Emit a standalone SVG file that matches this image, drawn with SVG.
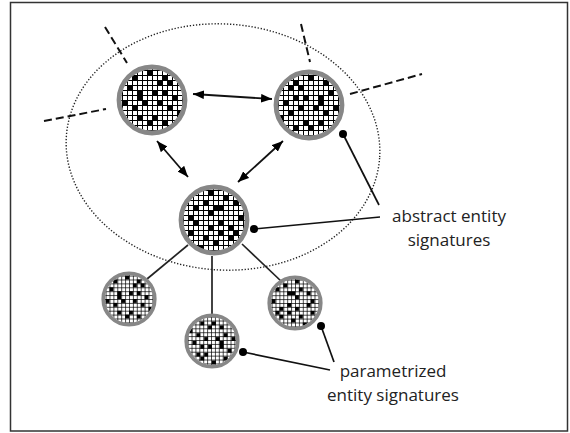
<svg xmlns="http://www.w3.org/2000/svg" xmlns:xlink="http://www.w3.org/1999/xlink" width="570" height="433" viewBox="0 0 570 433">
<style>
.frame{fill:#fff;stroke:#333;stroke-width:1.5}
.ell{fill:none;stroke:#222;stroke-width:1.4;stroke-dasharray:1.3 1.8}
.dash{fill:none;stroke:#111;stroke-width:2;stroke-dasharray:8 4}
.arr{fill:none;stroke:#111;stroke-width:1.8}
.con{fill:none;stroke:#222;stroke-width:1.7}
.ptr{fill:none;stroke:#111;stroke-width:1.7}
.dot{fill:#000}
.ring{fill:none;stroke:#878787;stroke-width:4.8}
.lbl{font-family:"Open Sans","Noto Sans","Liberation Sans",sans-serif;font-size:17px;fill:#222;text-anchor:middle}
</style>
<defs>
<pattern id="grid" patternUnits="userSpaceOnUse" width="5" height="5">
<rect width="5" height="5" fill="#fff"/>
<path d="M0,0.5H5M0.5,0V5" stroke="#000" stroke-width="1"/>
</pattern>
<clipPath id="inner"><circle cx="0" cy="0" r="31"/></clipPath>
<marker id="ah" viewBox="0 0 10 8" refX="10" refY="4" markerWidth="11" markerHeight="9" orient="auto-start-reverse" markerUnits="userSpaceOnUse">
<path d="M0,0L10,4L0,8z" fill="#000"/>
</marker>
<symbol id="node" overflow="visible">
<g clip-path="url(#inner)">
<rect x="-35" y="-35" width="70" height="70" fill="url(#grid)"/>
<g fill="#000">
<rect x="-20" y="-25" width="5" height="5"/><rect x="-5" y="-30" width="5" height="5"/>
<rect x="10" y="-25" width="5" height="5"/><rect x="15" y="-20" width="5" height="5"/>
<rect x="-25" y="-15" width="5" height="5"/><rect x="-15" y="-10" width="5" height="10"/>
<rect x="0" y="-10" width="5" height="5"/><rect x="10" y="-10" width="5" height="5"/>
<rect x="20" y="-5" width="5" height="5"/><rect x="-10" y="0" width="5" height="5"/>
<rect x="5" y="0" width="5" height="5"/><rect x="15" y="5" width="5" height="5"/>
<rect x="-20" y="5" width="5" height="5"/><rect x="0" y="15" width="5" height="5"/>
<rect x="-5" y="20" width="5" height="5"/><rect x="10" y="20" width="5" height="5"/>
<rect x="-15" y="15" width="5" height="5"/><rect x="25" y="10" width="5" height="5"/>
<rect x="5" y="-20" width="5" height="5"/><rect x="-30" y="0" width="5" height="5"/>
</g>
</g>
<circle class="ring" cx="0" cy="0" r="33"/>
</symbol>
</defs>

<rect class="frame" x="10.5" y="2.5" width="557" height="428.5"/>

<g id="boundary">
<ellipse class="ell" cx="223" cy="147" rx="157" ry="123" transform="rotate(4 223 147)"/>
<line class="dash" x1="105" y1="27" x2="127" y2="63"/>
<line class="dash" x1="44" y1="121" x2="106" y2="109"/>
<line class="dash" x1="301" y1="24" x2="310" y2="62"/>
<line class="dash" x1="350" y1="94" x2="422" y2="74"/>
</g>

<g id="connectors">
<line class="arr" x1="193" y1="94" x2="272" y2="99" marker-start="url(#ah)" marker-end="url(#ah)"/>
<line class="arr" x1="157" y1="141" x2="188" y2="177" marker-start="url(#ah)" marker-end="url(#ah)"/>
<line class="arr" x1="283" y1="141" x2="238" y2="182" marker-start="url(#ah)" marker-end="url(#ah)"/>
<line class="con" x1="188" y1="245" x2="147" y2="279"/>
<line class="con" x1="212" y1="256" x2="212" y2="314"/>
<line class="con" x1="242" y1="244" x2="282" y2="282"/>
<line class="ptr" x1="343" y1="134" x2="379" y2="205"/>
<circle class="dot" cx="343" cy="134" r="4"/>
<line class="ptr" x1="254" y1="229" x2="380" y2="217"/>
<circle class="dot" cx="254" cy="229" r="4"/>
<line class="ptr" x1="243" y1="352" x2="330" y2="370"/>
<circle class="dot" cx="243" cy="352" r="4"/>
<line class="ptr" x1="321" y1="326" x2="334" y2="362"/>
<circle class="dot" cx="321" cy="326" r="4"/>
</g>

<g id="n-tl"><use xlink:href="#node" transform="translate(152,100)"/></g>
<g id="n-tr"><use xlink:href="#node" transform="translate(309,105) scale(-1,1)"/></g>
<g id="n-center"><use xlink:href="#node" transform="translate(214,220) rotate(90)"/></g>
<g id="n-bl"><use xlink:href="#node" transform="translate(129,299) scale(0.78)"/></g>
<g id="n-bc"><use xlink:href="#node" transform="translate(212,341) scale(0.78) rotate(180)"/></g>
<g id="n-br"><use xlink:href="#node" transform="translate(295,303) scale(-0.78,0.78) rotate(90)"/></g>

<g id="labels">
<text class="lbl" x="449" y="222">abstract entity</text>
<text class="lbl" x="449" y="246">signatures</text>
<text class="lbl" x="393" y="377">parametrized</text>
<text class="lbl" x="393" y="401">entity signatures</text>
</g>
</svg>
